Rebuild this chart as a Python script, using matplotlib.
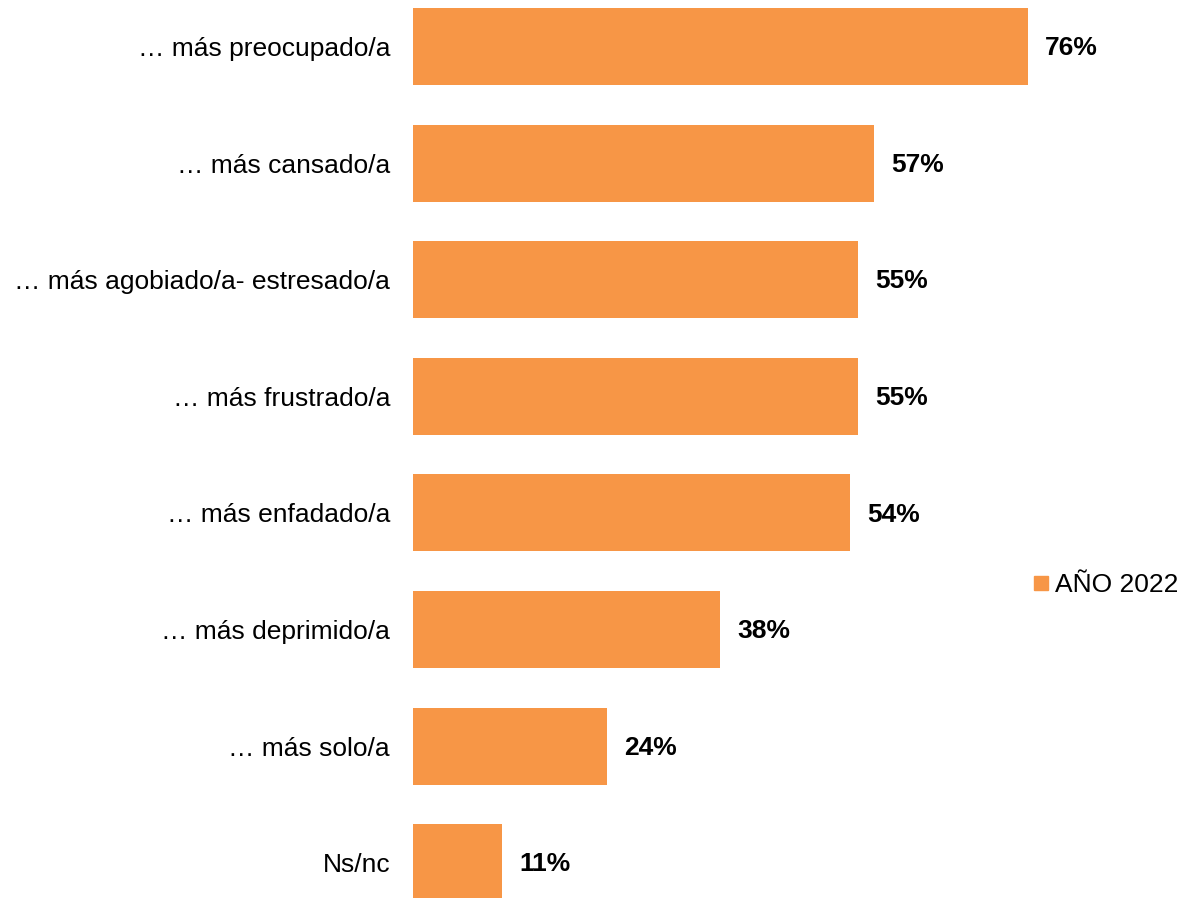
import matplotlib
matplotlib.use('Agg')
import matplotlib.pyplot as plt
from matplotlib.lines import Line2D

plt.rcParams['font.family'] = ['Liberation Sans', 'DejaVu Sans']

categories = ['… más preocupado/a', '… más cansado/a', '… más agobiado/a- estresado/a',
              '… más frustrado/a', '… más enfadado/a', '… más deprimido/a',
              '… más solo/a', 'Ns/nc']
values = [76, 57, 55, 55, 54, 38, 24, 11]
series_name = 'AÑO 2022'
color = '#F79646'

fig = plt.figure(figsize=(11.84, 8.98), dpi=100)
ax = fig.add_axes([413 / 1184, 0, 728 / 1184, 1])

pos = list(range(len(categories)))
bars = ax.barh(pos, values, height=0.66, color=color)
ax.set_xlim(0, 90)
ax.set_ylim(7.303, -0.399)

ax.set_yticks(pos)
ax.set_yticklabels(categories, fontsize=19)
ax.tick_params(axis='y', length=0, pad=16.5)
ax.set_xticks([])
for s in ax.spines.values():
    s.set_visible(False)

for b, v in zip(bars, values):
    ax.annotate(f'{v}%', (b.get_width(), b.get_y() + b.get_height() / 2),
                xytext=(12.2, -1.2), textcoords='offset points',
                ha='left', va='center', fontsize=19, fontweight='bold')

h = Line2D([], [], marker='s', linestyle='', markersize=10, color=color)
fig.legend([h], [series_name], loc='center left', bbox_to_anchor=(1033 / 1184, 1 - 585 / 898),
           frameon=False, fontsize=19, handlelength=0.6, handletextpad=0.25,
           borderpad=0, borderaxespad=0)

fig.savefig('out.png', dpi=100)
